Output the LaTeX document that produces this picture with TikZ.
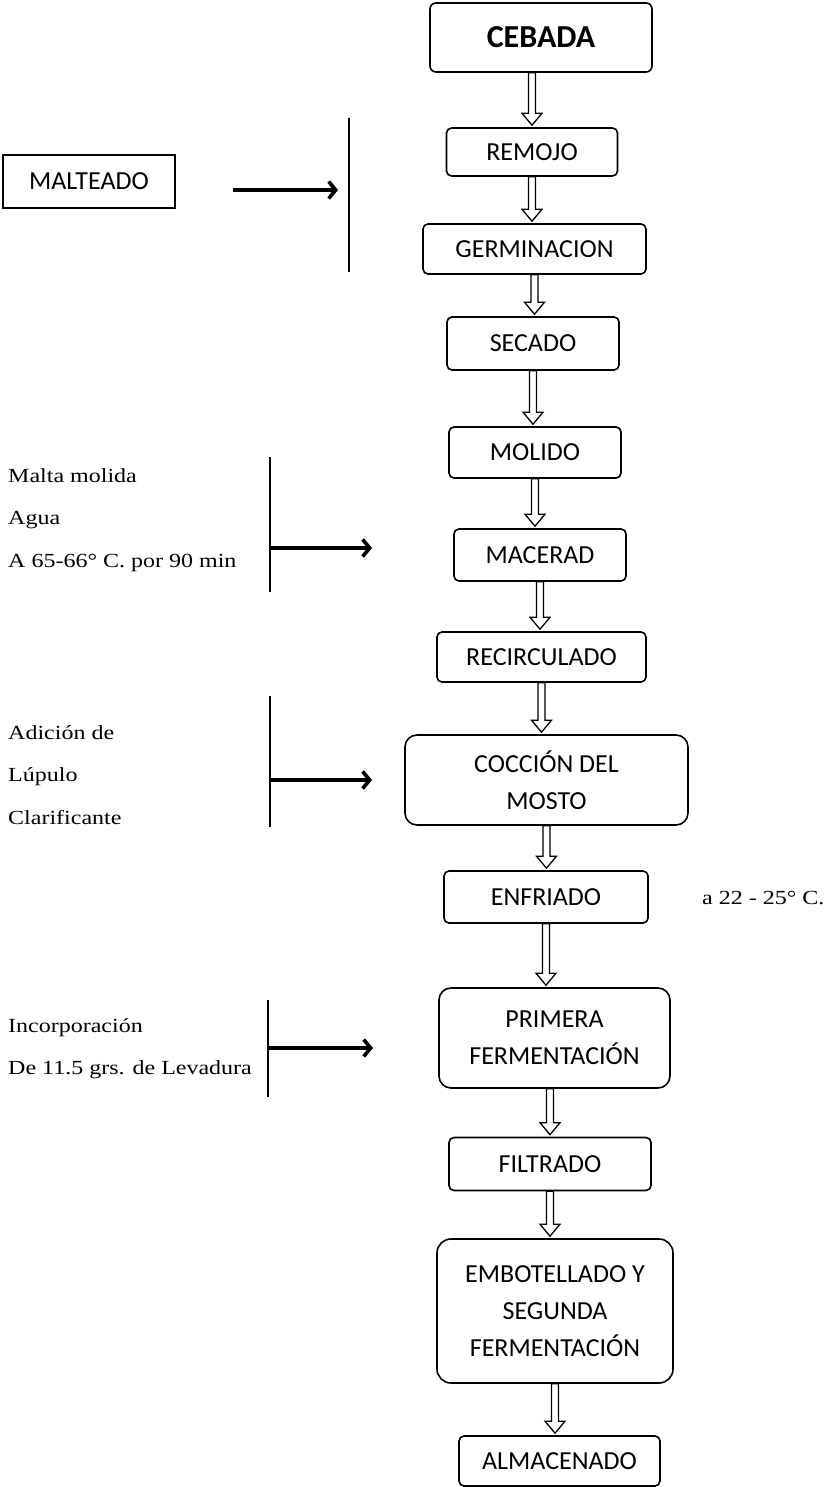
\documentclass[tikz,border=0pt]{standalone}
\usepackage{fontspec}
\setmainfont{Carlito}
\newfontfamily\romana[FakeStretch=1.2]{Liberation Serif}
\usetikzlibrary{calc,arrows.meta}

\begin{document}
\begin{tikzpicture}[x=1pt,y=-1pt]
        \tikzstyle{caja}=[rectangle, rounded corners=5pt, draw=black, line width=1.6pt, align=center, inner sep=0pt, font=\fontsize{26}{37}\selectfont]
        \tikzstyle{texto}=[anchor=west, align=left, inner sep=0pt, font=\romana\fontsize{20}{42.5}\selectfont]
        \tikzstyle{flecha}=[draw=black, line width=1.3pt, fill=white, to path={let \p1=(\tikztostart), \p2=(\tikztotarget) in (\x1-3.5pt,\y1) -- (\x1-3.5pt,\y2+14pt) -- (\x1-10pt,\y2+14pt) -- (\x1,\y2+2pt) -- (\x1+10pt,\y2+14pt) -- (\x1+3.5pt,\y2+14pt) -- (\x1+3.5pt,\y1) -- cycle}]
        \tikzstyle{barra}=[black, line width=1.8pt]
        \tikzstyle{entrada}=[black, line width=3.6pt, -{Straight Barb[length=7pt,width=17pt]}]

        \useasboundingbox (0,0) rectangle (828,1487);

        \node[caja, rounded corners=6pt, minimum width=222pt, minimum height=69pt, font=\fontsize{32}{38}\selectfont\bfseries] (cebada) at (541,37.5) {CEBADA};
        \node[caja, minimum width=171pt, minimum height=48pt] (remojo)      at (532,152)    {REMOJO};
        \node[caja, minimum width=223pt, minimum height=50pt] (germinacion) at (534.5,249)  {GERMINACION};
        \node[caja, minimum width=172pt, minimum height=53pt] (secado)      at (533,343.5)  {SECADO};
        \node[caja, minimum width=172pt, minimum height=51pt] (molido)      at (535,452.5)  {MOLIDO};
        \node[caja, minimum width=172pt, minimum height=52pt] (macerad)     at (540,555)    {MACERAD};
        \node[caja, minimum width=209pt, minimum height=50pt] (recirculado) at (541.5,657)  {RECIRCULADO};
        \node[caja, rounded corners=12pt, minimum width=283pt, minimum height=90pt] (coccion) at (546.5,780) {COCCIÓN DEL\\MOSTO};
        \node[caja, minimum width=204pt, minimum height=52pt] (enfriado)    at (546,897)    {ENFRIADO};
        \node[caja, rounded corners=12pt, minimum width=231pt, minimum height=100pt] (primera) at (554.5,1038) {PRIMERA\\FERMENTACIÓN};
        \node[caja, minimum width=202pt, minimum height=53pt] (filtrado)    at (550,1164)   {FILTRADO};
        \node[caja, rounded corners=14pt, minimum width=236pt, minimum height=144pt] (embotellado) at (555,1311) {EMBOTELLADO Y\\SEGUNDA\\FERMENTACIÓN};
        \node[caja, minimum width=201pt, minimum height=50pt] (almacenado)  at (559.5,1461) {ALMACENADO};

        \node[caja, rounded corners=0pt, minimum width=172pt, minimum height=53pt] (malteado) at (89,181.5) {MALTEADO};
        \node[texto] (malta)     at (8,520)    {Malta molida\\Agua\\A 65-66° C. por 90 min};
        \node[texto] (lupulo)    at (8,775)    {Adición de\\Lúpulo\\Clarificante};
        \node[texto] (levadura)  at (8,1048.5) {Incorporación\\De 11.5 grs. de Levadura};
        \node[texto] (temp)      at (702,898)  {a 22 - 25° C.};

        \draw[flecha] (cebada.south -| remojo.north) to (remojo.north);
        \draw[flecha] (remojo.south) to (remojo.south |- germinacion.north);
        \draw[flecha] (germinacion.south) to (germinacion.south |- secado.north);
        \draw[flecha] (secado.south) to (secado.south |- molido.north);
        \draw[flecha] (molido.south) to (molido.south |- macerad.north);
        \draw[flecha] (macerad.south) to (macerad.south |- recirculado.north);
        \draw[flecha] (recirculado.south) to (recirculado.south |- coccion.north);
        \draw[flecha] (coccion.south) to (coccion.south |- enfriado.north);
        \draw[flecha] (enfriado.south) to (enfriado.south |- primera.north);
        \draw[flecha] (primera.south -| filtrado.north) to (filtrado.north);
        \draw[flecha] (filtrado.south) to (filtrado.south |- embotellado.north);
        \draw[flecha] (embotellado.south) to (embotellado.south |- almacenado.north);

        \coordinate (m1) at (338,190);
        \coordinate (b2) at (270,548);
        \coordinate (m2) at (372,548);
        \coordinate (b3) at (270,780);
        \coordinate (m3) at (372,780);
        \coordinate (b4) at (268,1048);
        \coordinate (m4) at (373,1048);

        \draw[barra] (349,118) -- (349,272);
        \draw[barra] (270,457) -- (270,592);
        \draw[barra] (270,696) -- (270,827);
        \draw[barra] (268,1000) -- (268,1097);

        \draw[entrada, shorten <=57pt] (malteado.east |- m1) -- (m1);
        \draw[entrada] (b2) -- (m2);
        \draw[entrada] (b3) -- (m3);
        \draw[entrada] (b4) -- (m4);
    \end{tikzpicture}
\end{document}
